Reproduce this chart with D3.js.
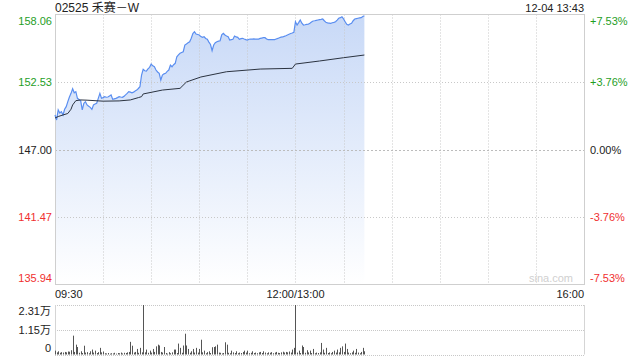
<!DOCTYPE html>
<html>
<head>
<meta charset="utf-8">
<script src="https://cdn.jsdelivr.net/npm/d3@7"></script>
<style>
body { margin: 0; background: #fff; }
svg { display: block; font-family: "Liberation Sans", Arial, "Noto Sans CJK SC", sans-serif; }
</style>
</head>
<body>
<svg id="chart" width="640" height="360"></svg>
<script>
// 标题与时间
let title = "02525 禾赛－W";
let stamp = "12-04 13:43";
let prevClose = 147.00;

// 价格刻度 / 涨跌幅刻度
let priceTicks = [158.06, 152.53, 147.00, 141.47, 135.94];
let pctTicks = ["+7.53%", "+3.76%", "0.00%", "-3.76%", "-7.53%"];
// 时间刻度（开盘后分钟数）
let timeTicks = [0, 150, 330];
let timeLabels = ["09:30", "12:00/13:00", "16:00"];
let volTicks = [23100, 11500, 0];
let volLabels = ["2.31万", "1.15万", "0"];

// 分时价格，每分钟一个点 09:30 -> 13:43
let price = [
149.83,149.42,150.24,149.99,150.10,149.83,150.30,150.51,150.92,151.30,
151.60,151.98,151.65,151.74,151.19,151.10,151.00,150.24,150.79,150.92,
150.65,150.55,150.45,150.29,150.65,150.72,150.79,151.19,151.60,151.20,
151.25,151.33,151.28,151.30,151.38,151.47,151.11,151.15,151.19,151.25,
151.33,151.30,151.28,151.35,151.47,151.60,151.74,151.70,151.65,151.70,
151.80,151.87,152.00,152.15,153.10,153.57,153.45,153.43,153.60,153.73,
154.00,153.85,153.78,153.51,153.35,153.24,152.69,153.10,153.20,153.24,
153.40,153.51,153.92,153.78,153.95,154.06,154.60,154.75,154.88,154.95,
155.01,155.56,155.65,155.75,155.83,156.11,156.50,156.65,156.46,156.42,
156.38,156.25,156.19,156.24,156.10,156.03,155.80,155.60,155.09,155.56,
155.75,155.83,155.88,155.91,156.40,156.52,156.38,156.30,156.24,155.97,
156.00,156.03,156.30,156.22,156.19,156.03,156.08,156.11,156.05,156.00,
155.97,156.03,156.05,156.05,156.06,156.05,156.05,156.05,156.10,156.13,
156.16,156.16,156.05,156.00,156.00,156.00,156.00,156.00,156.05,156.10,
156.16,156.20,156.22,156.27,156.32,156.38,156.44,156.50,156.54,156.60,
157.47,157.20,157.40,157.61,157.35,157.20,157.22,157.25,157.26,157.35,
157.45,157.53,157.55,157.58,157.61,157.64,157.66,157.69,157.55,157.42,
157.38,157.36,157.34,157.38,157.42,157.47,157.60,157.75,157.80,157.88,
157.70,157.47,157.25,157.20,157.28,157.34,157.55,157.69,157.72,157.75,
157.78,157.80,157.90,157.96
];

// 均价线（读图取点）
let avgMin = [0, 2, 5, 8, 10, 11, 13, 16, 20, 30, 40, 47, 52, 54, 55, 67, 78, 82, 91, 107, 128, 148, 150, 165, 180, 193];
let avgPrice = [149.58, 149.70, 149.83, 149.95, 150.30, 150.65, 151.00, 151.06, 151.04, 150.96, 150.98, 151.06, 151.25, 151.33, 151.55, 151.87, 152.01, 152.53, 152.94, 153.37, 153.59, 153.65, 154.00, 154.25, 154.52, 154.74];

// 成交量（股）
let volume = [
1800,1000,1500,800,1100,900,1200,1000,1400,1300,
2000,8800,1200,4600,3500,800,1500,700,4100,900,
1100,600,1500,2300,900,1800,700,1100,3100,1000,
1400,600,500,700,400,600,500,800,400,700,
600,900,500,800,700,1000,1200,5900,4100,900,
1200,2600,800,3100,1000,23100,1000,2300,800,1800,
900,2600,1200,3800,4600,4200,1200,900,3500,700,
400,1100,600,1000,2300,2300,700,5100,3100,800,
4200,9700,4200,2600,800,1500,2600,900,3100,900,
2600,6900,1000,1800,600,1100,1500,700,3400,3500,
3800,4600,900,800,500,700,5700,4600,800,600,
1800,1000,700,1500,600,900,700,1200,1800,900,
1800,600,800,1500,700,900,600,1000,1200,700,
1500,900,600,1000,800,1100,600,900,1200,800,
700,1000,1300,900,1200,1000,1400,900,2300,3100,
23100,900,1800,700,4200,3500,800,2000,1000,1800,
700,2600,600,900,700,1000,5400,2300,800,3100,
700,1000,600,1200,1800,900,2300,1000,3100,3800,
1200,5100,2600,900,600,1000,1800,800,2600,900,
600,1200,3100,1500
];

let svg = d3.select("#chart");
let left = 55, right = 584;
let plotTop = 14.5, plotBottom = 284.5;
let vTop = 305, vBottom = 354.5;

let x = d3.scaleLinear().domain([0, 330]).range([left, right]);
let y = d3.scaleLinear().domain([135.94, 158.06]).range([plotBottom, plotTop]);
let yv = d3.scaleLinear().domain([0, 23100]).range([vBottom, vTop]);

let green = "#1f9e1f", red = "#f03030", dark = "#222";
function tickColor(i) { return i < 2 ? green : (i === 2 ? dark : red); }

// 渐变填充
let defs = svg.append("defs");
let grad = defs.append("linearGradient").attr("id", "fill")
    .attr("x1", 0).attr("y1", 0).attr("x2", 0).attr("y2", 1);
grad.append("stop").attr("offset", "0%").attr("stop-color", "#c8d9f7");
grad.append("stop").attr("offset", "100%").attr("stop-color", "#ffffff");

// 面积
let area = d3.area()
    .x((d, i) => x(i))
    .y0(plotBottom)
    .y1(d => y(d));
svg.append("path")
    .datum(price)
    .attr("d", area)
    .attr("fill", "url(#fill)");

// 网格 - 竖线
let gridMins = d3.range(30, 330, 30);
svg.append("g").selectAll("line")
    .data(gridMins)
    .enter().append("line")
    .attr("x1", d => Math.round(x(d)) + 0.5)
    .attr("x2", d => Math.round(x(d)) + 0.5)
    .attr("y1", plotTop)
    .attr("y2", plotBottom)
    .attr("stroke", "#c8c8c8")
    .attr("stroke-dasharray", "1,2");

// 网格 - 横线
svg.append("g").selectAll("line")
    .data(priceTicks.slice(1, 4))
    .enter().append("line")
    .attr("x1", left)
    .attr("x2", right)
    .attr("y1", d => Math.round(y(d)) + 0.5)
    .attr("y2", d => Math.round(y(d)) + 0.5)
    .attr("stroke", d => d === prevClose ? "#bcbcbc" : "#c8c8c8")
    .attr("stroke-dasharray", d => d === prevClose ? "2,2" : "1,2");

// 边框
svg.append("rect")
    .attr("x", left + 0.5).attr("y", plotTop)
    .attr("width", right - left).attr("height", plotBottom - plotTop)
    .attr("fill", "none").attr("stroke", "#cfcfcf");

// 价格线
let line = d3.line()
    .x((d, i) => x(i))
    .y(d => y(d));
svg.append("path")
    .datum(price)
    .attr("d", line)
    .attr("fill", "none")
    .attr("stroke", "#5a8ef0")
    .attr("stroke-width", 1.2);

// 均价线
let avgLine = d3.line()
    .x((d, i) => x(avgMin[i]))
    .y(d => y(d));
svg.append("path")
    .datum(avgPrice)
    .attr("d", avgLine)
    .attr("fill", "none")
    .attr("stroke", "#2b3340")
    .attr("stroke-width", 1);

// 标题
svg.append("text").attr("x", left).attr("y", 12)
    .attr("font-size", 12).attr("fill", dark).text(title);
svg.append("text").attr("x", right).attr("y", 12)
    .attr("font-size", 11).attr("fill", dark)
    .attr("text-anchor", "end").text(stamp);

// 左轴
let axisL = d3.axisLeft(y).tickValues(priceTicks)
    .tickFormat(d3.format(".2f")).tickSize(0).tickPadding(3);
let gL = svg.append("g").attr("transform", `translate(${left},0)`).call(axisL);
gL.select(".domain").remove();
gL.selectAll("text")
    .attr("font-size", 11)
    .attr("font-family", null)
    .attr("fill", (d, i) => tickColor(i))
    .attr("dy", (d, i) => i === 0 ? "0.95em" : (i === 4 ? "-0.25em" : "0.32em"));

// 右轴
let axisR = d3.axisRight(y).tickValues(priceTicks)
    .tickFormat((d, i) => pctTicks[i]).tickSize(0).tickPadding(6);
let gR = svg.append("g").attr("transform", `translate(${right},0)`).call(axisR);
gR.select(".domain").remove();
gR.selectAll("text")
    .attr("font-size", 11)
    .attr("font-family", null)
    .attr("fill", (d, i) => tickColor(i))
    .attr("dy", (d, i) => i === 0 ? "0.95em" : (i === 4 ? "-0.25em" : "0.32em"));

// 时间轴
svg.append("g").selectAll("text")
    .data(timeTicks)
    .enter().append("text")
    .attr("x", d => x(d))
    .attr("y", 298)
    .attr("font-size", 11)
    .attr("fill", dark)
    .attr("text-anchor", (d, i) => i === 0 ? "start" : (i === 1 ? "middle" : "end"))
    .text((d, i) => timeLabels[i]);

// 水印
svg.append("text").attr("x", 573).attr("y", 282)
    .attr("font-size", 11).attr("fill", "#d0d0d0")
    .attr("text-anchor", "end").text("sina.com");

// 成交量面板
svg.append("g").selectAll("line")
    .data(volTicks)
    .enter().append("line")
    .attr("x1", left).attr("x2", right)
    .attr("y1", d => Math.round(yv(d)) + 0.5)
    .attr("y2", d => Math.round(yv(d)) + 0.5)
    .attr("stroke", "#c8c8c8")
    .attr("stroke-dasharray", "1,1");
[left + 0.5, right + 0.5].forEach(function(px) {
    svg.append("line").attr("x1", px).attr("x2", px)
        .attr("y1", vTop).attr("y2", vBottom)
        .attr("stroke", "#d5d5d5");
});

svg.append("g").selectAll("rect")
    .data(volume)
    .enter().append("rect")
    .attr("x", (d, i) => Math.round(x(i)))
    .attr("width", 1)
    .attr("y", d => yv(d))
    .attr("height", d => vBottom - yv(d))
    .attr("fill", "#555");

svg.append("g").selectAll("text")
    .data(volTicks)
    .enter().append("text")
    .attr("x", 51)
    .attr("y", d => yv(d))
    .attr("dy", (d, i) => i === 0 ? "0.9em" : (i === 2 ? "-0.2em" : "0.35em"))
    .attr("font-size", 11)
    .attr("fill", dark)
    .attr("text-anchor", "end")
    .text((d, i) => volLabels[i]);
</script>
</body>
</html>
